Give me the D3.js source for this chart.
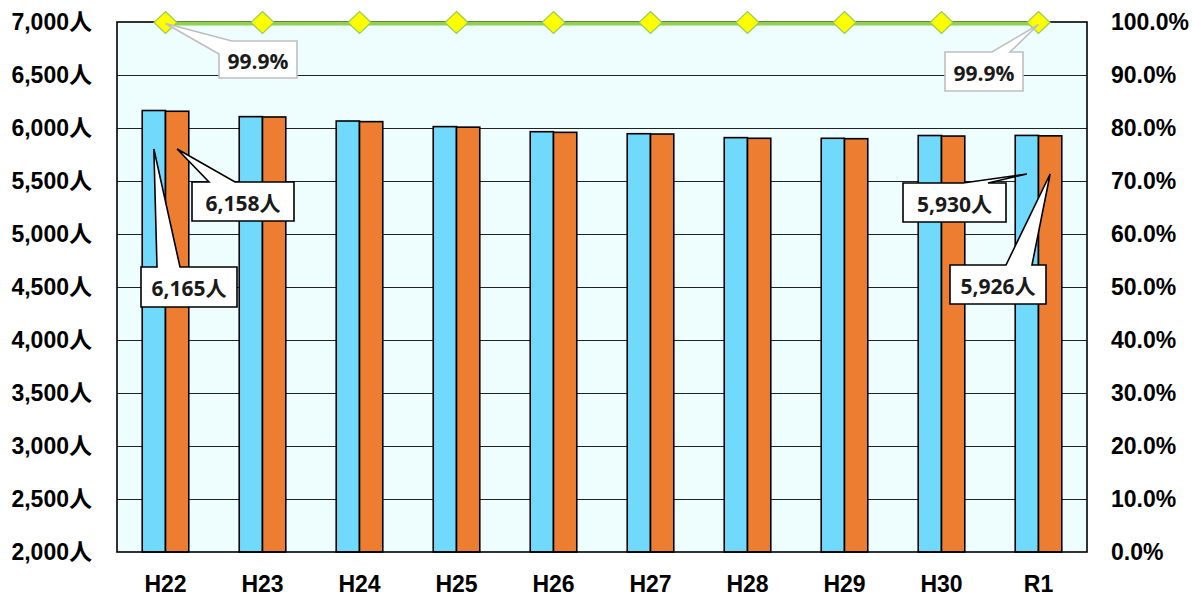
<!DOCTYPE html>
<html>
<head>
<meta charset="utf-8">
<script src="https://cdn.jsdelivr.net/npm/d3@7"></script>
<style>
  html, body { margin: 0; padding: 0; background: #ffffff; }
  svg { display: block; }
</style>
</head>
<body>
<svg id="chart" width="1192" height="608"></svg>
<script>
// Fiscal years
const years = ["H22", "H23", "H24", "H25", "H26", "H27", "H28", "H29", "H30", "R1"];
// Persons (left axis) – two bar series per year
const seriesA = [6165, 6107, 6066, 6013, 5965, 5946, 5909, 5903, 5929, 5930];
const seriesB = [6158, 6104, 6060, 6008, 5959, 5943, 5903, 5899, 5924, 5926];
// Ratio (right axis, %)
const ratio = [99.9, 99.9, 99.9, 99.9, 99.9, 99.9, 99.9, 99.9, 99.9, 99.9];
// Axis ticks
const leftTicks = [2000, 2500, 3000, 3500, 4000, 4500, 5000, 5500, 6000, 6500, 7000];
const rightTicks = [0, 10, 20, 30, 40, 50, 60, 70, 80, 90, 100];

const svg = d3.select("#chart");
const plot = { left: 117, right: 1087, top: 22, bottom: 552 };

const x = d3.scaleBand().domain(years)
  .range([plot.left, plot.right]).paddingInner(0.52).paddingOuter(0.26);
const xSub = d3.scaleBand().domain(["a", "b"]).range([0, x.bandwidth()]);
const yL = d3.scaleLinear().domain([2000, 7000]).range([plot.bottom, plot.top]);
const yR = d3.scaleLinear().domain([0, 100]).range([plot.bottom, plot.top]);

const tickFont = "'Liberation Sans', 'Noto Sans CJK JP', sans-serif";
const labelFont = "'Open Sans', 'Noto Sans CJK JP', sans-serif";
const tickSize = 23;

// Plot background
svg.append("rect")
  .attr("x", plot.left).attr("y", plot.top)
  .attr("width", plot.right - plot.left).attr("height", plot.bottom - plot.top)
  .attr("fill", "#eefdfd");

// Gridlines
svg.append("g").selectAll("line").data(leftTicks.slice(1, -1)).join("line")
  .attr("x1", plot.left).attr("x2", plot.right)
  .attr("y1", d => Math.round(yL(d)) + 0.5).attr("y2", d => Math.round(yL(d)) + 0.5)
  .attr("stroke", "#222").attr("stroke-width", 1);

// Left axis
const axL = svg.append("g").attr("transform", `translate(${plot.left},0)`)
  .call(d3.axisLeft(yL).tickValues(leftTicks).tickSize(0).tickPadding(25)
    .tickFormat(d => d3.format(",")(d) + "人"));
axL.select(".domain").remove();
axL.selectAll("text").attr("font-family", tickFont).attr("font-size", tickSize)
  .attr("font-weight", "bold").attr("fill", "#000");

// Right axis
const axR = svg.append("g").attr("transform", `translate(${plot.right},0)`)
  .call(d3.axisRight(yR).tickValues(rightTicks).tickSize(0).tickPadding(24)
    .tickFormat(d => d3.format(".1f")(d) + "%"));
axR.select(".domain").remove();
axR.selectAll("text").attr("font-family", tickFont).attr("font-size", tickSize)
  .attr("font-weight", "bold").attr("fill", "#000");

// Bottom axis
const axB = svg.append("g").attr("transform", `translate(0,${plot.bottom})`)
  .call(d3.axisBottom(x).tickSize(0).tickPadding(24));
axB.select(".domain").remove();
axB.selectAll("text").attr("font-family", tickFont).attr("font-size", tickSize)
  .attr("font-weight", "bold").attr("fill", "#000");

// Bars
const rows = years.map((y, i) => ({ year: y, a: seriesA[i], b: seriesB[i] }));
const groups = svg.append("g").selectAll("g").data(rows).join("g")
  .attr("transform", d => `translate(${x(d.year)},0)`);
const barColors = { a: "#70d9fc", b: "#ed7d31" };
groups.selectAll("rect").data(d => ["a", "b"].map(k => ({ k, v: d[k] }))).join("rect")
  .attr("x", d => xSub(d.k)).attr("width", xSub.bandwidth())
  .attr("y", d => yL(d.v)).attr("height", d => plot.bottom - yL(d.v))
  .attr("fill", d => barColors[d.k])
  .attr("stroke", "#000").attr("stroke-width", 1.6);

// Plot frame
svg.append("rect")
  .attr("x", plot.left).attr("y", plot.top)
  .attr("width", plot.right - plot.left).attr("height", plot.bottom - plot.top)
  .attr("fill", "none").attr("stroke", "#000").attr("stroke-width", 1.6);

// Ratio line with diamond markers
const cx = d => x(d) + x.bandwidth() / 2;
const pts = years.map((y, i) => [cx(y), yR(ratio[i]) + 1]);
svg.append("path").attr("d", d3.line()(pts))
  .attr("fill", "none").attr("stroke", "#92d050").attr("stroke-width", 4);
svg.append("g").selectAll("path").data(pts).join("path")
  .attr("transform", d => `translate(${d[0]},${d[1] - 1})`)
  .attr("d", "M0,-11L11.5,0L0,11L-11.5,0Z")
  .attr("fill", "#ffff00").attr("stroke", "#92d050").attr("stroke-width", 1.2);

// Callouts: box + wedge pointing at a mark
function callout(tip, box, wedge, text, stroke) {
  const { x0, y0, x1, y1 } = box;
  let poly;
  if (wedge.corner) {
    poly = [[wedge.b0, y0], tip, [x0, wedge.b1], [x0, y1], [x1, y1], [x1, y0]];
  } else {
    poly = [[x0, y0], [wedge.b0, y0], tip, [wedge.b1, y0], [x1, y0], [x1, y1], [x0, y1]];
  }
  const g = svg.append("g");
  g.append("path").attr("d", "M" + poly.map(p => p.join(",")).join("L") + "Z")
    .attr("fill", "#fff").attr("stroke", stroke).attr("stroke-width", 1.6)
    .attr("stroke-linejoin", "miter");
  g.append("text")
    .attr("x", (x0 + x1) / 2).attr("y", (y0 + y1) / 2 + 1)
    .attr("text-anchor", "middle").attr("dominant-baseline", "central")
    .attr("font-family", labelFont).attr("font-size", 21).attr("font-weight", "bold")
    .attr("fill", "#1a1a1a").text(text);
}

const fmtP = d => d3.format(",")(d) + "人";
const barCx = (i, k) => x(years[i]) + xSub(k) + xSub.bandwidth() / 2;
const last = years.length - 1;

callout([barCx(0, "a"), 149], { x0: 141, y0: 267, x1: 237, y1: 307 },
  { b0: 157, b1: 180 }, fmtP(seriesA[0]), "#000");
callout([barCx(0, "b"), 149], { x0: 192, y0: 182, x1: 294, y1: 221 },
  { b0: 209, b1: 235 }, fmtP(seriesB[0]), "#000");
callout([barCx(last, "a"), 174], { x0: 903, y0: 183, x1: 1006, y1: 222 },
  { b0: 963, b1: 988 }, fmtP(seriesA[last]), "#000");
callout([barCx(last, "b"), 174], { x0: 950, y0: 265, x1: 1046, y1: 304 },
  { b0: 1006, b1: 1032 }, fmtP(seriesB[last]), "#000");

callout([pts[0][0], pts[0][1]], { x0: 219, y0: 41, x1: 297, y1: 78 },
  { corner: true, b0: 232, b1: 54 }, d3.format(".1f")(ratio[0]) + "%", "#bfbfbf");
callout([pts[last][0], pts[last][1] + 1], { x0: 945, y0: 52, x1: 1023, y1: 91 },
  { b0: 992, b1: 1010 }, d3.format(".1f")(ratio[last]) + "%", "#bfbfbf");
</script>
</body>
</html>
